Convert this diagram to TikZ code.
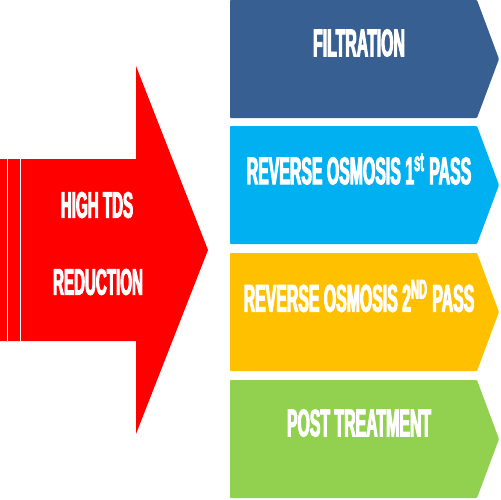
\documentclass[tikz,border=0pt]{standalone}
\usepackage{fontspec}
\newfontfamily\lblfont[FakeStretch=0.41,FakeBold=2.5]{Liberation Sans}
\definecolor{filtblue}{HTML}{375F91}
\definecolor{roblue}{HTML}{00B0F0}
\definecolor{roorange}{HTML}{FFC000}
\definecolor{postgreen}{HTML}{92D050}

\begin{document}
\begin{tikzpicture}[x=0.02cm,y=-0.02cm,
	lbl/.style={text=white,inner sep=0,font=\lblfont\bfseries\fontsize{21}{21}\selectfont}]
	\useasboundingbox (0,0) rectangle (500,500);
	% big red arrow
	\fill[red] (0,159) -- (136,159) -- (136,66) -- (208,250) -- (136,434) -- (136,341) -- (0,341) -- cycle;
	\draw[white,line width=0.02cm] (7,159) -- (7,341);
	\draw[white,line width=0.02cm] (20.5,159) -- (20.5,341);
	\node[lbl] (high) at (97,205) {HIGH TDS};
	\node[lbl] (reduction) at (98,282) {REDUCTION};
	% process steps
	\foreach \t/\col/\name/\txt in {0/filtblue/filt/FILTRATION,
		126/roblue/ro1/{REVERSE OSMOSIS 1\textsuperscript{st} PASS},
		253/roorange/ro2/{REVERSE OSMOSIS 2\textsuperscript{ND} PASS},
		380/postgreen/post/POST TREATMENT}{
		\fill[\col,rounded corners=0.5pt] (230,\t) -- (477,\t) -- (499,\t+59) -- (477,\t+118) -- (230,\t+118) -- cycle;
		\node[lbl,font=\lblfont\bfseries\fontsize{22}{22}\selectfont] (\name) at (359,\t+43) {\txt};
	}
\end{tikzpicture}
\end{document}
